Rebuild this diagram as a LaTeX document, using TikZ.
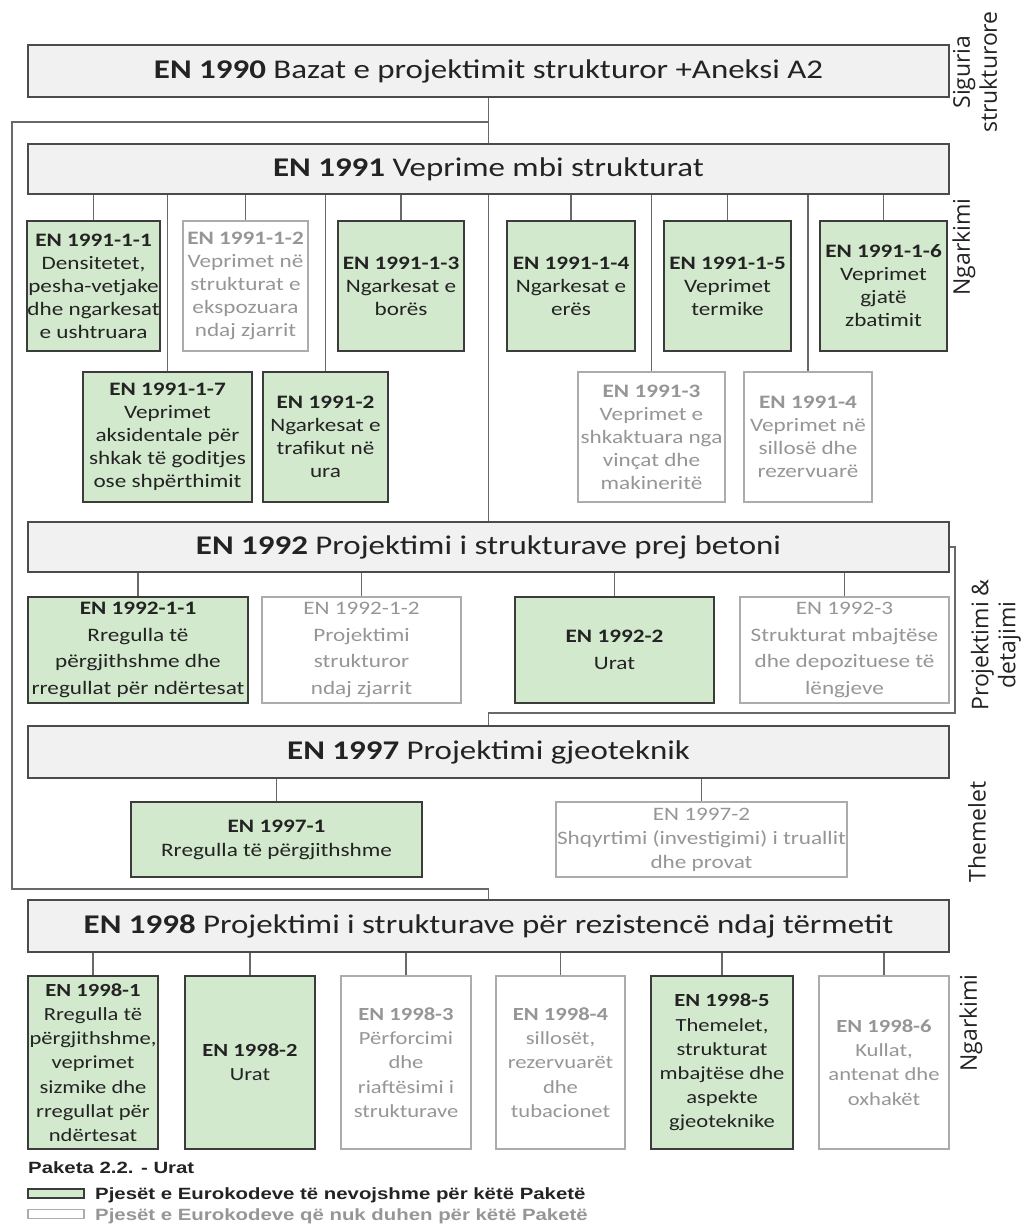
\documentclass[tikz,border=0pt]{standalone}
\usepackage{fontspec}
\setmainfont[FakeStretch=1.22]{Carlito}
\newfontfamily\sidefont{Open Sans}
\newfontfamily\legfont[FakeStretch=1.25]{Liberation Sans}
\definecolor{headfill}{RGB}{241,241,241}
\definecolor{headline}{RGB}{75,75,75}
\definecolor{gfill}{RGB}{211,233,206}
\definecolor{gline}{RGB}{60,60,60}
\definecolor{wline}{RGB}{172,172,172}
\definecolor{txtdark}{RGB}{35,35,35}
\definecolor{txtgrey}{RGB}{150,150,150}
\definecolor{connc}{RGB}{105,105,105}
\tikzset{
  head/.style={draw=headline, line width=2pt, fill=headfill, minimum width=921pt,
    inner sep=0pt, text=txtdark, font=\fontsize{27}{30}\selectfont},
  gbox/.style={draw=gline, line width=2pt, fill=gfill, inner sep=0pt, align=center, text=txtdark},
  wbox/.style={draw=wline, line width=1.8pt, fill=white, inner sep=0pt, align=center, text=txtgrey},
  fa/.style={font=\fontsize{19}{23}\selectfont},
  fb/.style={font=\fontsize{19}{26.5}\selectfont},
  fc/.style={font=\fontsize{19}{24}\selectfont},
  fd/.style={font=\fontsize{18.5}{24.2}\selectfont},
  conn/.style={draw=connc, line width=1.3pt},
  side/.style={rotate=90, align=center, text=txtdark, inner sep=0pt,
    font=\sidefont\fontsize{23}{27}\selectfont},
  legtxt/.style={anchor=base west, inner sep=0pt, font=\legfont\bfseries\fontsize{16.3}{18}\selectfont},
}
\begin{document}
\begin{tikzpicture}[x=1pt, y=-1pt]
\useasboundingbox (0,0) rectangle (1028,1229);
\fill[white] (0,0) rectangle (1028,1229);

% headers
\node[head, minimum height=52pt] (h1990) at (488.5,71) {\textbf{EN 1990} Bazat e projektimit strukturor +Aneksi A2};
\node[head, minimum height=50pt] (h1991) at (488.5,169) {\textbf{EN 1991} Veprime mbi strukturat};
\node[head, minimum height=50pt] (h1992) at (488.5,547) {\textbf{EN 1992} Projektimi i strukturave prej betoni};
\node[head, minimum height=52pt] (h1997) at (488.5,752) {\textbf{EN 1997} Projektimi gjeoteknik};
\node[head, minimum height=52pt] (h1998) at (488.5,926) {\textbf{EN 1998} Projektimi i strukturave për rezistencë ndaj tërmetit};

% EN 1991 upper row
\node[gbox, fa, minimum width=133pt, minimum height=130pt] (a11) at (93.5,286) {\textbf{EN 1991-1-1}\\Densitetet,\\pesha-vetjake\\dhe ngarkesat\\e ushtruara};
\node[wbox, fa, minimum width=125pt, minimum height=130pt] (a12) at (245.5,286) {\textbf{EN 1991-1-2}\\Veprimet në\\strukturat e\\ekspozuara\\ndaj zjarrit};
\node[gbox, fa, minimum width=126pt, minimum height=130pt] (a13) at (401,286) {\textbf{EN 1991-1-3}\\Ngarkesat e\\borës};
\node[gbox, fa, minimum width=128pt, minimum height=130pt] (a14) at (571,286) {\textbf{EN 1991-1-4}\\Ngarkesat e\\erës};
\node[gbox, fa, minimum width=127pt, minimum height=130pt] (a15) at (727.5,286) {\textbf{EN 1991-1-5}\\Veprimet\\termike};
\node[gbox, fa, minimum width=127pt, minimum height=130pt] (a16) at (883.5,286) {\textbf{EN 1991-1-6}\\Veprimet\\gjatë\\zbatimit};
% EN 1991 lower row
\node[gbox, fa, minimum width=169pt, minimum height=130pt] (a17) at (167.5,437) {\textbf{EN 1991-1-7}\\Veprimet\\aksidentale për\\shkak të goditjes\\ose shpërthimit};
\node[gbox, fa, minimum width=125pt, minimum height=130pt] (a2) at (325.5,437) {\textbf{EN 1991-2}\\Ngarkesat e\\trafikut në\\ura};
\node[wbox, fa, minimum width=147pt, minimum height=130pt] (a3) at (651.5,437) {\textbf{EN 1991-3}\\Veprimet e\\shkaktuara nga\\vinçat dhe\\makineritë};
\node[wbox, fa, minimum width=128pt, minimum height=130pt] (a4) at (808,437) {\textbf{EN 1991-4}\\Veprimet në\\sillosë dhe\\rezervuarë};

% EN 1992 row
\node[gbox, fb, minimum width=220pt, minimum height=106pt] (b11) at (138,650) {\textbf{EN 1992-1-1}\\Rregulla të\\përgjithshme dhe\\rregullat për ndërtesat};
\node[wbox, fb, minimum width=199pt, minimum height=106pt] (b12) at (361.5,650) {EN 1992-1-2\\Projektimi\\strukturor\\ndaj zjarrit};
\node[gbox, fb, minimum width=199pt, minimum height=106pt] (b2) at (614.5,650) {\textbf{EN 1992-2}\\Urat};
\node[wbox, fb, minimum width=209pt, minimum height=106pt] (b3) at (844.5,650) {EN 1992-3\\Strukturat mbajtëse\\dhe depozituese të\\lëngjeve};

% EN 1997 row
\node[gbox, fc, minimum width=291pt, minimum height=75pt] (c1) at (276.5,839.5) {\textbf{EN 1997-1}\\Rregulla të përgjithshme};
\node[wbox, fc, minimum width=291pt, minimum height=75pt] (c2) at (701.5,839.5) {EN 1997-2\\Shqyrtimi (investigimi) i truallit\\dhe provat};

% EN 1998 row
\node[gbox, fd, minimum width=130pt, minimum height=173pt] (d1) at (93,1062.5) {\textbf{EN 1998-1}\\Rregulla të\\përgjithshme,\\veprimet\\sizmike dhe\\rregullat për\\ndërtesat};
\node[gbox, fd, minimum width=130pt, minimum height=173pt] (d2) at (250,1062.5) {\textbf{EN 1998-2}\\Urat};
\node[wbox, fd, minimum width=130pt, minimum height=173pt] (d3) at (406,1062.5) {\textbf{EN 1998-3}\\Përforcimi\\dhe\\riaftësimi i\\strukturave};
\node[wbox, fd, minimum width=129pt, minimum height=173pt] (d4) at (560.5,1062.5) {\textbf{EN 1998-4}\\sillosët,\\rezervuarët\\dhe\\tubacionet};
\node[gbox, fd, minimum width=142pt, minimum height=173pt] (d5) at (722,1062.5) {\textbf{EN 1998-5}\\Themelet,\\strukturat\\mbajtëse dhe\\aspekte\\gjeoteknike};
\node[wbox, fd, minimum width=130pt, minimum height=173pt] (d6) at (884,1062.5) {\textbf{EN 1998-6}\\Kullat,\\antenat dhe\\oxhakët};

% connectors
\draw[conn] (h1990.south) -- (h1991.north);
\foreach \n in {a11,a12,a13,a14,a15,a16,a17,a2,a3,a4}
  \draw[conn] (\n.north) -- (\n.north |- h1991.south);
\draw[conn] (h1991.south) -- (h1992.north);
\foreach \n in {b11,b12,b2,b3}
  \draw[conn] (\n.north) -- (\n.north |- h1992.south);
\coordinate (r1) at (955,547);
\coordinate (r2) at (955,713);
\draw[conn] (h1992.east) -- (r1) -- (r2) -- (r2 -| h1997.north) -- (h1997.north);
\foreach \n in {c1,c2}
  \draw[conn] (\n.north) -- (\n.north |- h1997.south);
\coordinate (l1) at (12,122);
\coordinate (l2) at (12,889);
\draw[conn] (l1 -| h1990.south) -- (l1) -- (l2) -- (l2 -| h1998.north) -- (h1998.north);
\foreach \n in {d1,d2,d3,d4,d5,d6}
  \draw[conn] (\n.north) -- (\n.north |- h1998.south);

% side labels
\node[side] (s1) at (975,72) {Siguria\\strukturore};
\node[side] (s2) at (964,247) {Ngarkimi};
\node[side] (s3) at (996,645) {Projektimi \&\\detajimi};
\node[side] (s4) at (977,832) {Themelet};
\node[side] (s5) at (971,1023) {Ngarkimi};

% legend
\node[legtxt, text=txtdark, font=\legfont\bfseries\fontsize{16.3}{18}\selectfont] (pk) at (28,1173) {Paketa 2.2. - Urat};
\node[draw=gline, fill=gfill, line width=1.5pt, minimum width=56pt, minimum height=9pt, inner sep=0pt] (lg1) at (56,1193.5) {};
\node[legtxt, text=txtdark] (lt1) at (95,1199) {Pjesët e Eurokodeve të nevojshme për këtë Paketë};
\node[draw=wline, fill=white, line width=1.5pt, minimum width=56pt, minimum height=9pt, inner sep=0pt] (lg2) at (56,1214) {};
\node[legtxt, text=txtgrey] (lt2) at (95,1220) {Pjesët e Eurokodeve që nuk duhen për këtë Paketë};
\end{tikzpicture}
\end{document}
